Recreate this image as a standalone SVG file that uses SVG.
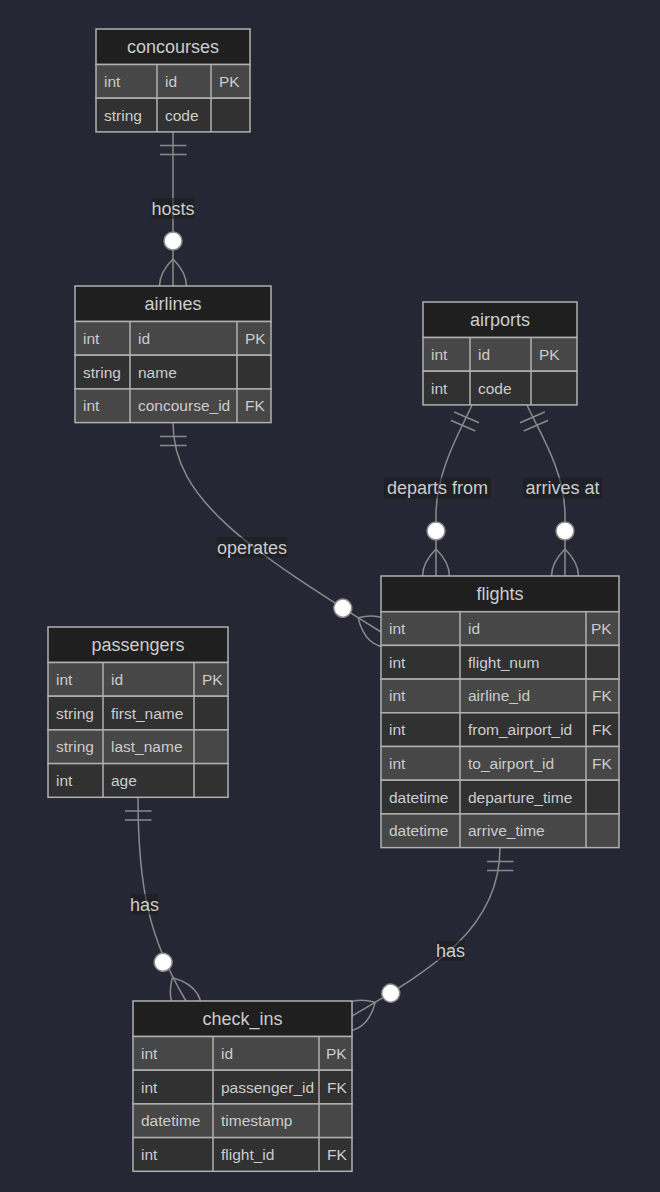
<svg xmlns="http://www.w3.org/2000/svg" width="660" height="1192" viewBox="0 0 660 1192">
<style>
.bg{fill:#252834}
.hdr{fill:#1f1f1f;stroke:#b0b0b0;stroke-width:1.5}
.r1{fill:#474747;stroke:#b0b0b0;stroke-width:1.5}
.r2{fill:#313131;stroke:#b0b0b0;stroke-width:1.5}
.sep{stroke:#b0b0b0;stroke-width:1.5;fill:none}
.ttl{font-family:"Liberation Sans",Arial,sans-serif;font-size:18px;fill:#cccccc;text-anchor:middle}
.att{font-family:"Liberation Sans",Arial,sans-serif;font-size:15.5px;fill:#cccccc}
.edge{fill:none;stroke:#8a8a8a;stroke-width:1.5}
.lblbg{fill:#181818;opacity:0.5}
.lbl{font-family:"Liberation Sans",Arial,sans-serif;font-size:18px;fill:#cccccc;text-anchor:middle}
.mk{fill:none;stroke:#8a8a8a;stroke-width:1}
.mkc{fill:#ffffff;stroke:#8a8a8a;stroke-width:1}
</style>
<defs>
<marker id="oneStart" markerUnits="userSpaceOnUse" viewBox="0 0 18 18" markerWidth="27" markerHeight="27" refX="0" refY="9" orient="auto">
<path class="mk" d="M9,0 L9,18 M15,0 L15,18"/>
</marker>
<marker id="manyEnd" markerUnits="userSpaceOnUse" viewBox="0 0 57 36" markerWidth="85.5" markerHeight="54" refX="39" refY="18" orient="auto">
<circle class="mkc" cx="9" cy="18" r="6"/>
<path class="mk" d="M21,18 Q39,0 57,18 Q39,36 21,18"/>
</marker>
</defs>
<rect class="bg" x="0" y="0" width="660" height="1192"/>
<g id="connectors">
<path class="edge" d="M173,132 L173,286" marker-start="url(#oneStart)" marker-end="url(#manyEnd)"/>
<path class="edge" d="M173,423 C173,500 250,550 381,632" marker-start="url(#oneStart)" marker-end="url(#manyEnd)"/>
<path class="edge" d="M472,405 C462,428 436,470 436,515 L436,576" marker-start="url(#oneStart)" marker-end="url(#manyEnd)"/>
<path class="edge" d="M527,405 C537,428 565,470 565,515 L565,576" marker-start="url(#oneStart)" marker-end="url(#manyEnd)"/>
<path class="edge" d="M138,797.5 C138,890 150,940 186,1001" marker-start="url(#oneStart)" marker-end="url(#manyEnd)"/>
<path class="edge" d="M500,848 C500,930 430,970 352,1016" marker-start="url(#oneStart)" marker-end="url(#manyEnd)"/>
<rect class="lblbg" x="151.5" y="198" width="43" height="21"/>
<text class="lbl" x="173" y="214.5">hosts</text>
<rect class="lblbg" x="216.5" y="537" width="71" height="20.5"/>
<text class="lbl" x="252" y="553.5">operates</text>
<rect class="lblbg" x="384" y="477.5" width="107" height="21"/>
<text class="lbl" x="437.5" y="494">departs from</text>
<rect class="lblbg" x="523" y="477.5" width="79" height="21"/>
<text class="lbl" x="562.5" y="494">arrives at</text>
<rect class="lblbg" x="131" y="894" width="27" height="20.5"/>
<text class="lbl" x="144.5" y="910.5">has</text>
<rect class="lblbg" x="436.5" y="940.5" width="28" height="20.5"/>
<text class="lbl" x="450.5" y="957">has</text>
</g>
<g id="concourses">
<rect class="hdr" x="96" y="29" width="154" height="35.5"/>
<rect class="r1" x="96" y="64.5" width="154" height="33.7"/>
<rect class="r2" x="96" y="98.2" width="154" height="33.7"/>
<path class="sep" d="M157,64.5V131.9M211,64.5V131.9"/>
<text class="ttl" x="173" y="52.75">concourses</text>
<text class="att" x="104" y="86.85">int</text><text class="att" x="165" y="86.85">id</text><text class="att" x="219" y="86.85">PK</text>
<text class="att" x="104" y="120.55">string</text><text class="att" x="165" y="120.55">code</text>
</g>
<g id="airlines">
<rect class="hdr" x="75" y="286" width="196" height="35.5"/>
<rect class="r1" x="75" y="321.5" width="196" height="33.7"/>
<rect class="r2" x="75" y="355.2" width="196" height="33.7"/>
<rect class="r1" x="75" y="388.9" width="196" height="33.7"/>
<path class="sep" d="M130,321.5V422.6M237,321.5V422.6"/>
<text class="ttl" x="173" y="309.75">airlines</text>
<text class="att" x="83" y="343.85">int</text><text class="att" x="138" y="343.85">id</text><text class="att" x="245" y="343.85">PK</text>
<text class="att" x="83" y="377.55">string</text><text class="att" x="138" y="377.55">name</text>
<text class="att" x="83" y="411.25">int</text><text class="att" x="138" y="411.25">concourse_id</text><text class="att" x="245" y="411.25">FK</text>
</g>
<g id="airports">
<rect class="hdr" x="423" y="302" width="154" height="35.5"/>
<rect class="r1" x="423" y="337.5" width="154" height="33.7"/>
<rect class="r2" x="423" y="371.2" width="154" height="33.7"/>
<path class="sep" d="M470,337.5V404.9M531,337.5V404.9"/>
<text class="ttl" x="500" y="325.75">airports</text>
<text class="att" x="431" y="359.85">int</text><text class="att" x="478" y="359.85">id</text><text class="att" x="539" y="359.85">PK</text>
<text class="att" x="431" y="393.55">int</text><text class="att" x="478" y="393.55">code</text>
</g>
<g id="flights">
<rect class="hdr" x="381" y="576" width="238" height="35.7"/>
<rect class="r1" x="381" y="611.7" width="238" height="33.7"/>
<rect class="r2" x="381" y="645.4" width="238" height="33.7"/>
<rect class="r1" x="381" y="679.1" width="238" height="33.7"/>
<rect class="r2" x="381" y="712.8" width="238" height="33.7"/>
<rect class="r1" x="381" y="746.5" width="238" height="33.7"/>
<rect class="r2" x="381" y="780.2" width="238" height="33.7"/>
<rect class="r1" x="381" y="813.9" width="238" height="33.7"/>
<path class="sep" d="M460,611.7V847.6M586,611.7V847.6"/>
<text class="ttl" x="500" y="599.85">flights</text>
<text class="att" x="389" y="634.05">int</text><text class="att" x="468" y="634.05">id</text><text class="att" x="591" y="634.05">PK</text>
<text class="att" x="389" y="667.75">int</text><text class="att" x="468" y="667.75">flight_num</text>
<text class="att" x="389" y="701.45">int</text><text class="att" x="468" y="701.45">airline_id</text><text class="att" x="592" y="701.45">FK</text>
<text class="att" x="389" y="735.15">int</text><text class="att" x="468" y="735.15">from_airport_id</text><text class="att" x="592" y="735.15">FK</text>
<text class="att" x="389" y="768.85">int</text><text class="att" x="468" y="768.85">to_airport_id</text><text class="att" x="592" y="768.85">FK</text>
<text class="att" x="389" y="802.55">datetime</text><text class="att" x="468" y="802.55">departure_time</text>
<text class="att" x="389" y="836.25">datetime</text><text class="att" x="468" y="836.25">arrive_time</text>
</g>
<g id="passengers">
<rect class="hdr" x="48" y="627" width="180" height="35.5"/>
<rect class="r1" x="48" y="662.5" width="180" height="33.7"/>
<rect class="r2" x="48" y="696.2" width="180" height="33.7"/>
<rect class="r1" x="48" y="729.9" width="180" height="33.7"/>
<rect class="r2" x="48" y="763.6" width="180" height="33.7"/>
<path class="sep" d="M103,662.5V797.3M194,662.5V797.3"/>
<text class="ttl" x="138" y="650.75">passengers</text>
<text class="att" x="56" y="684.85">int</text><text class="att" x="111" y="684.85">id</text><text class="att" x="202" y="684.85">PK</text>
<text class="att" x="56" y="718.55">string</text><text class="att" x="111" y="718.55">first_name</text>
<text class="att" x="56" y="752.25">string</text><text class="att" x="111" y="752.25">last_name</text>
<text class="att" x="56" y="785.95">int</text><text class="att" x="111" y="785.95">age</text>
</g>
<g id="check_ins">
<rect class="hdr" x="133" y="1001" width="219" height="35.5"/>
<rect class="r1" x="133" y="1036.5" width="219" height="33.7"/>
<rect class="r2" x="133" y="1070.2" width="219" height="33.7"/>
<rect class="r1" x="133" y="1103.9" width="219" height="33.7"/>
<rect class="r2" x="133" y="1137.6" width="219" height="33.7"/>
<path class="sep" d="M213,1036.5V1171.3M319,1036.5V1171.3"/>
<text class="ttl" x="242.5" y="1024.75">check_ins</text>
<text class="att" x="141" y="1058.85">int</text><text class="att" x="221" y="1058.85">id</text><text class="att" x="326" y="1058.85">PK</text>
<text class="att" x="141" y="1092.55">int</text><text class="att" x="221" y="1092.55">passenger_id</text><text class="att" x="327" y="1092.55">FK</text>
<text class="att" x="141" y="1126.25">datetime</text><text class="att" x="221" y="1126.25">timestamp</text>
<text class="att" x="141" y="1159.95">int</text><text class="att" x="221" y="1159.95">flight_id</text><text class="att" x="327" y="1159.95">FK</text>
</g>
</svg>
